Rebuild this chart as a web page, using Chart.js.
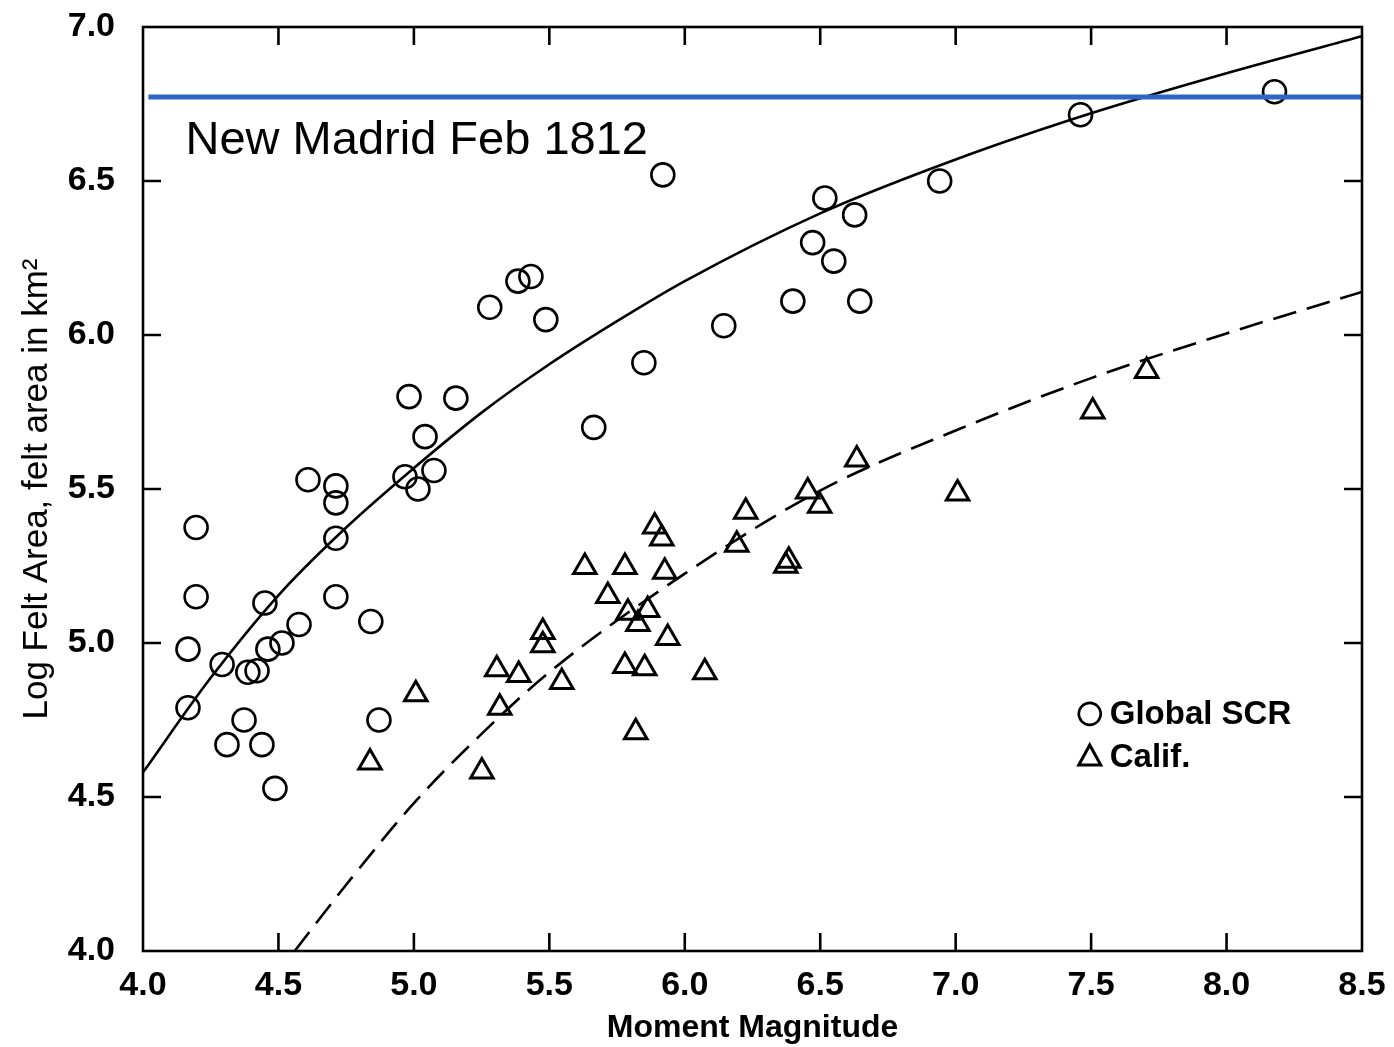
<!DOCTYPE html>
<html>
<head>
<meta charset="utf-8">
<script src="https://cdn.jsdelivr.net/npm/chart.js@4.4.1/dist/chart.umd.min.js"></script>
<style>
  html, body { margin: 0; padding: 0; background: #fff; }
  #wrap { width: 1394px; height: 1047px; position: relative; }
</style>
</head>
<body>
<div id="wrap"><canvas id="chart" width="1394" height="1047"></canvas></div>
<script>
// Global SCR (circles)
const globalMag = [4.166, 4.166, 4.196, 4.196, 4.292, 4.31, 4.373, 4.387, 4.421, 4.439, 4.45, 4.461, 4.487, 4.513, 4.576,
  4.609, 4.712, 4.712, 4.712, 4.712, 4.841, 4.871, 4.967, 4.982, 5.015, 5.041, 5.074, 5.155, 5.28, 5.384,
  5.432, 5.487, 5.664, 5.849, 5.919, 6.144, 6.399, 6.472, 6.517, 6.55, 6.627, 6.646, 6.941, 7.461, 8.177];
const globalArea = [4.79, 4.98, 5.375, 5.15, 4.93, 4.67, 4.75, 4.905, 4.91, 4.67, 5.13, 4.98, 4.528, 5.0, 5.06,
  5.53, 5.51, 5.455, 5.34, 5.15, 5.07, 4.75, 5.54, 5.8, 5.5, 5.67, 5.56, 5.795, 6.09, 6.175,
  6.19, 6.05, 5.7, 5.91, 6.52, 6.03, 6.11, 6.3, 6.445, 6.24, 6.39, 6.11, 6.5, 6.715, 6.79];

// Calif. (triangles)
const califMag = [4.838, 5.007, 5.251, 5.306, 5.317, 5.387, 5.476, 5.476, 5.546, 5.631, 5.716, 5.779, 5.779, 5.79, 5.819,
  5.827, 5.852, 5.863, 5.889, 5.915, 5.926, 5.937, 6.074, 6.192, 6.225, 6.373, 6.384, 6.454, 6.498, 6.635,
  7.007, 7.506, 7.705];
const califArea = [4.612, 4.834, 4.583, 4.915, 4.79, 4.896, 5.036, 4.993, 4.873, 5.247, 5.153, 5.247, 4.925, 5.098, 4.71,
  5.062, 4.918, 5.107, 5.378, 5.339, 5.231, 5.016, 4.905, 5.319, 5.426, 5.251, 5.267, 5.492, 5.446, 5.596,
  5.485, 5.752, 5.883];

// fitted curves
const fitGlobalMag = [4.0, 4.25, 4.5, 4.75, 5.0, 5.25, 5.5, 5.75, 6.0, 6.5, 7.0, 7.5, 8.0, 8.5];
const fitGlobalArea = [4.58, 4.887, 5.155, 5.375, 5.568, 5.748, 5.905, 6.045, 6.175, 6.395, 6.57, 6.72, 6.85, 6.97];
const fitCalifMag = [4.56, 4.75, 5.0, 5.25, 5.5, 6.0, 6.5, 7.0, 7.5, 8.0, 8.5];
const fitCalifArea = [4.0, 4.215, 4.48, 4.705, 4.905, 5.225, 5.495, 5.69, 5.86, 6.005, 6.14];

// New Madrid reference level
const madridMag = [4.02, 8.5];
const madridArea = [6.773, 6.773];

const xTickMarks = [4.5, 5.0, 5.5, 6.0, 6.5, 7.0, 7.5, 8.0];
const yTickMarks = [4.5, 5.0, 5.5, 6.0, 6.5];

const FONT = "'Liberation Sans', Arial, sans-serif";

function pts(xs, ys) {
  return xs.map((x, i) => ({ x: x, y: ys[i] }));
}

const frameAndTicks = {
  id: "frameAndTicks",
  afterDatasetsDraw(chart) {
    const ctx = chart.ctx;
    const a = chart.chartArea;
    const xs = chart.scales.x;
    const ys = chart.scales.y;
    const len = 18;
    ctx.save();
    ctx.strokeStyle = "#000";
    ctx.lineWidth = 2.6;
    ctx.strokeRect(a.left, a.top, a.right - a.left, a.bottom - a.top);
    ctx.beginPath();
    xTickMarks.forEach((v) => {
      const px = xs.getPixelForValue(v);
      ctx.moveTo(px, a.bottom);
      ctx.lineTo(px, a.bottom - len);
      ctx.moveTo(px, a.top);
      ctx.lineTo(px, a.top + len);
    });
    yTickMarks.forEach((v) => {
      const py = ys.getPixelForValue(v);
      ctx.moveTo(a.left, py);
      ctx.lineTo(a.left + len, py);
      ctx.moveTo(a.right, py);
      ctx.lineTo(a.right - len, py);
    });
    ctx.stroke();

    // annotation text
    ctx.fillStyle = "#000";
    ctx.font = "47px " + FONT;
    ctx.textBaseline = "alphabetic";
    ctx.textAlign = "left";
    ctx.fillText("New Madrid Feb 1812", xs.getPixelForValue(4.157), ys.getPixelForValue(6.587));

    // legend
    const lx = xs.getPixelForValue(7.495);
    const ly1 = ys.getPixelForValue(4.77);
    const ly2 = ys.getPixelForValue(4.63);
    ctx.lineWidth = 2.6;
    ctx.beginPath();
    ctx.arc(lx, ly1, 11, 0, Math.PI * 2);
    ctx.stroke();
    ctx.lineWidth = 3;
    ctx.beginPath();
    ctx.moveTo(lx, ly2 - 12);
    ctx.lineTo(lx + 11, ly2 + 8);
    ctx.lineTo(lx - 11, ly2 + 8);
    ctx.closePath();
    ctx.stroke();
    ctx.font = "bold 33px " + FONT;
    ctx.textBaseline = "middle";
    ctx.fillText("Global SCR", lx + 20, ly1 + 1);
    ctx.fillText("Calif.", lx + 20, ly2 + 1);
    ctx.restore();
  }
};

const ctx = document.getElementById("chart");
new Chart(ctx, {
  type: "scatter",
  data: {
    datasets: [
      {
        label: "New Madrid Feb 1812",
        data: pts(madridMag, madridArea),
        showLine: true,
        borderColor: "#2f64c8",
        borderWidth: 5,
        pointRadius: 0
      },
      {
        label: "Global SCR",
        data: pts(globalMag, globalArea),
        pointStyle: "circle",
        pointRadius: 11.5,
        borderWidth: 2.6,
        borderColor: "#000",
        backgroundColor: "rgba(0,0,0,0)"
      },
      {
        label: "Calif.",
        data: pts(califMag, califArea),
        pointStyle: "triangle",
        pointRadius: 13,
        borderWidth: 3,
        borderColor: "#000",
        backgroundColor: "rgba(0,0,0,0)"
      },
      {
        label: "Global fit",
        data: pts(fitGlobalMag, fitGlobalArea),
        showLine: true,
        cubicInterpolationMode: "monotone",
        borderColor: "#000",
        borderWidth: 2.6,
        pointRadius: 0
      },
      {
        label: "Calif. fit",
        data: pts(fitCalifMag, fitCalifArea),
        showLine: true,
        cubicInterpolationMode: "monotone",
        borderColor: "#000",
        borderWidth: 2.6,
        borderDash: [24, 11],
        pointRadius: 0
      }
    ]
  },
  options: {
    responsive: false,
    animation: false,
    layout: { padding: { left: 0, right: 32, top: 27, bottom: 0 } },
    plugins: {
      legend: { display: false },
      tooltip: { enabled: false }
    },
    scales: {
      x: {
        type: "linear",
        min: 4.0,
        max: 8.5,
        grid: { display: false },
        border: { display: false },
        afterFit(scale) {
          scale.height = 96;
          scale.paddingLeft = 0;
          scale.paddingRight = 0;
        },
        ticks: {
          stepSize: 0.5,
          padding: 6,
          color: "#000",
          font: { family: FONT, size: 34, weight: "bold" },
          callback: (v) => Number(v).toFixed(1),
          maxRotation: 0
        },
        title: {
          display: true,
          text: "Moment Magnitude",
          color: "#000",
          padding: { top: 0, bottom: 0 },
          font: { family: FONT, size: 32, weight: "bold" }
        }
      },
      y: {
        type: "linear",
        min: 4.0,
        max: 7.0,
        grid: { display: false },
        border: { display: false },
        afterFit(scale) {
          scale.width = 143;
          scale.paddingTop = 0;
          scale.paddingBottom = 0;
        },
        ticks: {
          stepSize: 0.5,
          padding: 20,
          color: "#000",
          font: { family: FONT, size: 34, weight: "bold" },
          callback: (v) => Number(v).toFixed(1)
        },
        title: {
          display: true,
          text: "Log Felt Area, felt area in km²",
          color: "#000",
          padding: { top: 16, bottom: 0 },
          font: { family: FONT, size: 35, weight: "normal" }
        }
      }
    }
  },
  plugins: [frameAndTicks]
});
</script>
</body>
</html>
